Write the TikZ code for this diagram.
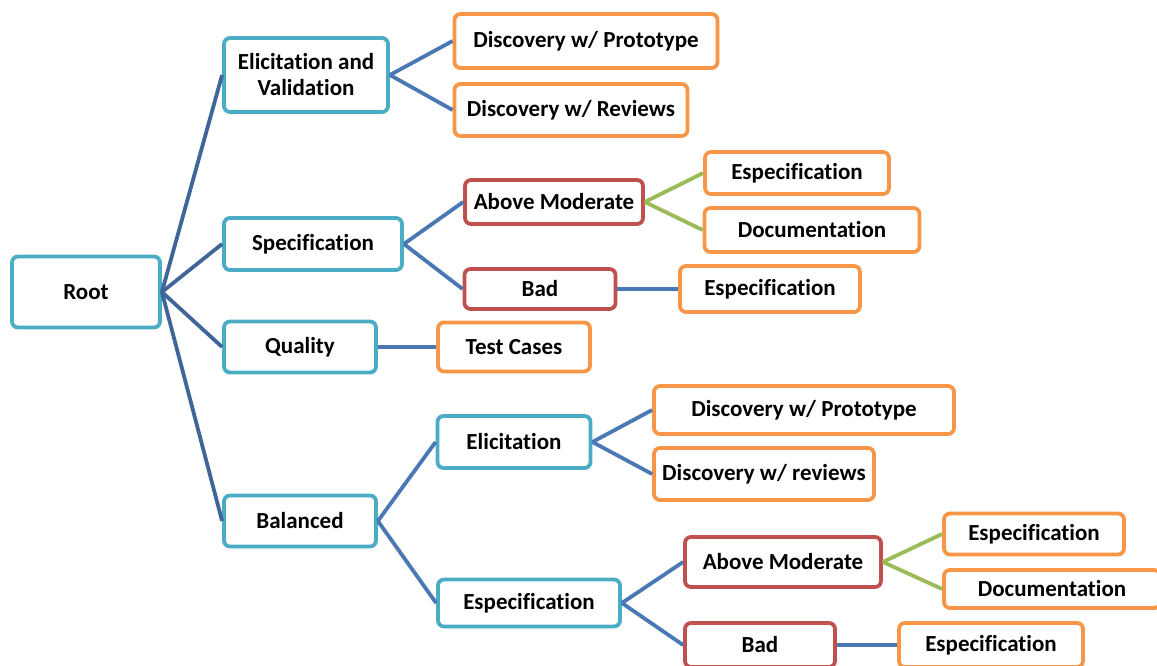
\documentclass[tikz,border=0pt]{standalone}
\usepackage{fontspec}
\setmainfont[Ligatures=NoCommon]{Carlito}
\definecolor{tealline}{HTML}{4BACC6}
\definecolor{orangeline}{HTML}{F79646}
\definecolor{redline}{HTML}{C0504D}
\definecolor{greenline}{HTML}{9BBB59}
\definecolor{linkblue}{HTML}{4A78B4}
\definecolor{rootblue}{HTML}{3F6599}
\begin{document}
\begin{tikzpicture}[x=1pt,y=-1pt,
		box/.style={draw,fill=white,rounded corners=6pt,line width=3.8pt,inner sep=0pt,align=center,
			font=\fontsize{23}{26}\selectfont\bfseries},
		level1/.style={box,draw=tealline},
		leaf/.style={box,draw=orangeline},
		grade/.style={box,draw=redline},
		link/.style={draw=linkblue,line width=3.8pt},
		rootlink/.style={draw=rootblue,line width=3.8pt},
		sublink/.style={draw=greenline,line width=3.8pt}]
	\useasboundingbox (0,0) rectangle (1157,666);
	% first column
	\node[level1,minimum width=148pt,minimum height=71pt] (root) at (86,292) {Root};
	% second column
	\node[level1,minimum width=164pt,minimum height=74pt] (elival) at (306,75) {Elicitation and\\Validation};
	\node[level1,minimum width=178pt,minimum height=52pt] (spec) at (313,244) {Specification};
	\node[level1,minimum width=152pt,minimum height=51pt] (quality) at (300,347) {Quality};
	\node[level1,minimum width=152pt,minimum height=51pt] (balanced) at (300,521) {Balanced};
	% third column
	\node[leaf,minimum width=263pt,minimum height=54pt] (protoA) at (586,41) {Discovery w/ Prototype};
	\node[leaf,minimum width=233pt,minimum height=52pt] (reviewA) at (571,110) {Discovery w/ Reviews};
	\node[grade,minimum width=178pt,minimum height=44pt] (modA) at (554,202) {Above Moderate};
	\node[grade,minimum width=151pt,minimum height=40pt] (badA) at (540,289) {Bad};
	\node[leaf,minimum width=152pt,minimum height=49pt] (tests) at (514,347) {Test Cases};
	\node[level1,minimum width=153pt,minimum height=52pt] (elic) at (514,442) {Elicitation};
	\node[level1,minimum width=182pt,minimum height=47pt] (especB) at (529,603) {Especification};
	% fourth column
	\node[leaf,minimum width=184pt,minimum height=42pt] (especA1) at (797,173) {Especification};
	\node[leaf,minimum width=215pt,minimum height=44pt] (docA) at (812,230) {Documentation};
	\node[leaf,minimum width=180pt,minimum height=46pt] (especA2) at (770,289) {Especification};
	\node[leaf,minimum width=300pt,minimum height=48pt] (protoB) at (804,410) {Discovery w/ Prototype};
	\node[leaf,minimum width=220pt,minimum height=52pt] (reviewB) at (764,474) {Discovery w/ reviews};
	\node[grade,minimum width=196pt,minimum height=50pt] (modB) at (783,562) {Above Moderate};
	\node[grade,minimum width=150pt,minimum height=44pt] (badB) at (760,645) {Bad};
	% fifth column
	\node[leaf,minimum width=180pt,minimum height=41pt] (especB1) at (1034,534) {Especification};
	\node[leaf,minimum width=216pt,minimum height=38pt] (docB) at (1052,589) {Documentation};
	\node[leaf,minimum width=184pt,minimum height=44pt] (especB2) at (991,645) {Especification};
	% connectors
	\foreach \child in {elival,spec,quality,balanced}
		\draw[rootlink] (root.east) -- (\child.west);
	\draw[link] (elival.east) -- (protoA.west);
	\draw[link] (elival.east) -- (reviewA.west);
	\draw[link] (spec.east) -- (modA.west);
	\draw[link] (spec.east) -- (badA.west);
	\draw[sublink] (modA.east) -- (especA1.west);
	\draw[sublink] (modA.east) -- (docA.west);
	\draw[link] (badA.east) -- (especA2.west);
	\draw[link] (quality.east) -- (tests.west);
	\draw[link] (balanced.east) -- (elic.west);
	\draw[link] (balanced.east) -- (especB.west);
	\draw[link] (elic.east) -- (protoB.west);
	\draw[link] (elic.east) -- (reviewB.west);
	\draw[link] (especB.east) -- (modB.west);
	\draw[link] (especB.east) -- (badB.west);
	\draw[sublink] (modB.east) -- (especB1.west);
	\draw[sublink] (modB.east) -- (docB.west);
	\draw[link] (badB.east) -- (especB2.west);
\end{tikzpicture}
\end{document}
